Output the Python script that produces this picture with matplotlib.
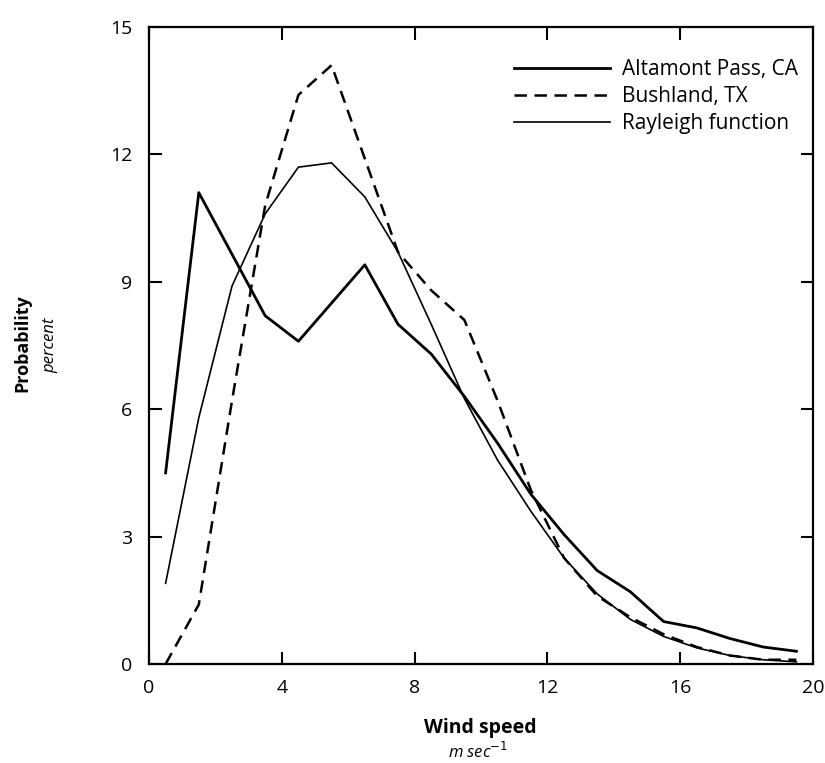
import matplotlib
matplotlib.use("Agg")
import matplotlib.pyplot as plt

plt.rcParams['font.family'] = ['Open Sans', 'DejaVu Sans']

wind_speed = [0.5, 1.5, 2.5, 3.5, 4.5, 5.5, 6.5, 7.5, 8.5, 9.5,
              10.5, 11.5, 12.5, 13.5, 14.5, 15.5, 16.5, 17.5, 18.5, 19.5]
altamont = [4.5, 11.1, 9.65, 8.2, 7.6, 8.5, 9.4, 8.0, 7.3, 6.3,
            5.2, 4.0, 3.05, 2.2, 1.7, 1.0, 0.85, 0.6, 0.4, 0.3]
bushland = [0.0, 1.4, 6.2, 10.8, 13.4, 14.1, 11.9, 9.7, 8.8, 8.1,
            6.2, 4.1, 2.5, 1.6, 1.1, 0.7, 0.4, 0.2, 0.1, 0.1]
rayleigh = [1.9, 5.8, 8.9, 10.6, 11.7, 11.8, 11.0, 9.7, 8.0, 6.25,
            4.8, 3.6, 2.5, 1.65, 1.05, 0.65, 0.38, 0.2, 0.1, 0.05]
labels = ["Altamont Pass, CA", "Bushland, TX", "Rayleigh function"]
x_ticks = [0, 4, 8, 12, 16, 20]
y_ticks = [0, 3, 6, 9, 12, 15]

fig = plt.figure(figsize=(8.25, 7.63), dpi=100)
ax = fig.add_axes([149/825, 1-664/763, (813-149)/825, (664-27)/763])

ax.plot(wind_speed, altamont, color='black', lw=2.0, ls='-', label=labels[0])
ax.plot(wind_speed, bushland, color='black', lw=1.8, ls=(0, (5, 3)), label=labels[1])
ax.plot(wind_speed, rayleigh, color='black', lw=1.2, ls='-', label=labels[2])

ax.set_xlim(0, 20)
ax.set_ylim(0, 15)
ax.set_xticks(x_ticks)
ax.set_yticks(y_ticks)
ax.tick_params(direction='in', length=9, width=1.5, labelsize=14,
               top=True, right=True, colors='black')
ax.tick_params(axis='y', pad=12)
ax.tick_params(axis='x', pad=11)
for s in ax.spines.values():
    s.set_linewidth(1.6)

leg = ax.legend(loc='upper right', bbox_to_anchor=(798/825, 1-59/763),
                bbox_transform=fig.transFigure, frameon=False, fontsize=15,
                handlelength=4.6, handletextpad=0.6, labelspacing=0.3,
                borderpad=0, borderaxespad=0)

fig.text(22/825, 1-343/763, "Probability", rotation=90, ha='center', va='center',
         fontsize=13, fontweight='bold')
fig.text(50/825, 1-345/763, "percent", rotation=90, ha='center', va='center',
         fontsize=12, style='italic')
fig.text(480/825, 1-728/763, "Wind speed", ha='center', va='center',
         fontsize=14, fontweight='bold')
fig.text(478/825, 1-752/763, r"m sec$^{-1}$", ha='center', va='center',
         fontsize=12, style='italic')

fig.savefig("out.png", dpi=100, facecolor='white')
